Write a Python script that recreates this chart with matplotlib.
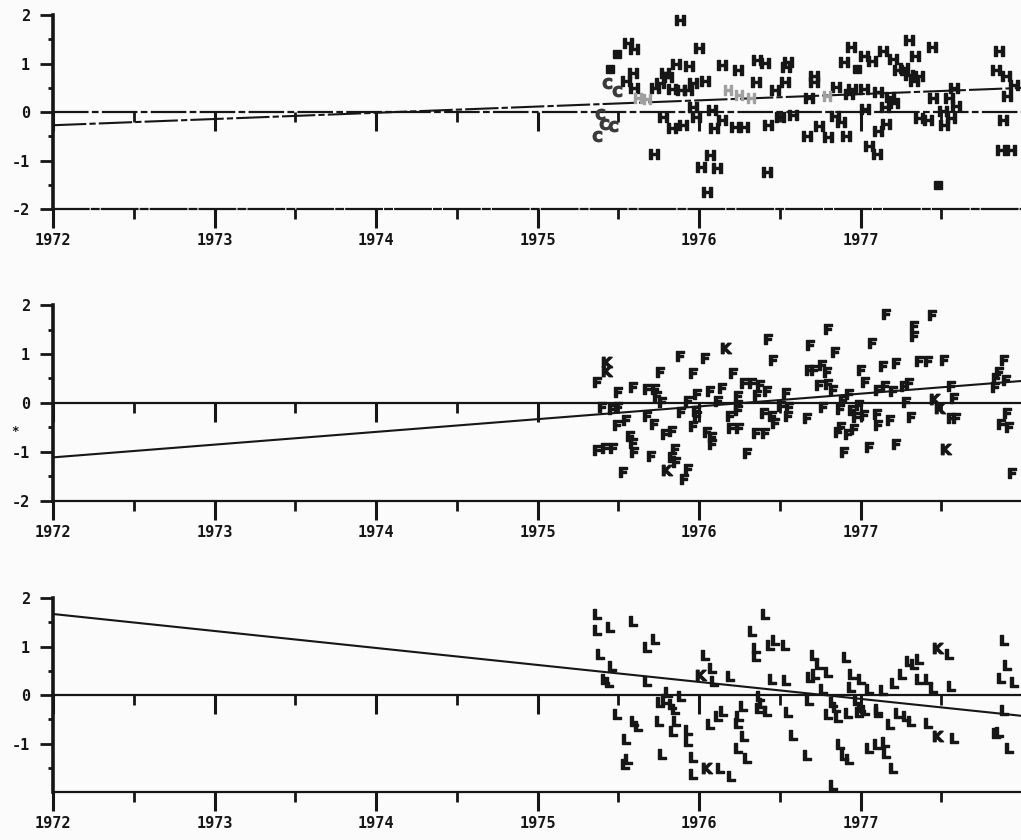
import matplotlib.pyplot as plt

# ------------------------------------------------------------------ #
# Values (decimal year, standardized value)
# ------------------------------------------------------------------ #
major_years = [1972, 1973, 1974, 1975, 1976, 1977]
minor_years = [1972.5, 1973.5, 1974.5, 1975.5, 1976.5, 1977.5]
year_labels = ['1972', '1973', '1974', '1975', '1976', '1977']

# fitted lines, value at 1972 and at 1978
fit_x = [1972, 1978]
fit_top = [-0.27, 0.50]
fit_mid = [-1.11, 0.45]
fit_bot = [1.67, -0.43]

# top panel, "H" points
h_year = [1975.88, 1975.56, 1975.60, 1976.00, 1975.86, 1975.94, 1976.14, 1976.24, 1976.36, 1976.41,
          1976.55, 1976.54, 1975.59, 1975.55, 1975.60, 1975.79, 1975.81, 1975.76, 1975.73, 1975.83,
          1975.89, 1975.96, 1976.04, 1975.93, 1976.35, 1976.53, 1976.47, 1975.78, 1975.83, 1975.90,
          1975.96, 1975.98, 1976.08, 1976.14, 1976.09, 1976.22, 1976.28, 1976.43, 1976.50, 1976.58,
          1975.72, 1976.07, 1976.01, 1976.11, 1976.05, 1976.42,
          1976.94, 1977.02, 1977.07, 1976.90, 1977.14, 1977.20, 1977.30, 1977.34, 1977.44, 1977.23,
          1977.27, 1977.30, 1977.33, 1977.36, 1976.71, 1976.71, 1976.68, 1976.85, 1976.93, 1976.95,
          1977.02, 1977.11, 1977.18, 1977.21, 1977.15, 1977.03, 1976.84, 1976.88, 1976.74, 1976.67,
          1976.80, 1976.91, 1977.11, 1977.16, 1977.05, 1977.10, 1977.36, 1977.42, 1977.45, 1977.55,
          1977.58, 1977.59, 1977.51, 1977.56, 1977.52, 1977.86, 1977.84, 1977.90, 1977.95, 1977.91,
          1977.88, 1977.87, 1977.93]
h_val = [1.89, 1.43, 1.30, 1.32, 1.00, 0.96, 0.97, 0.87, 1.08, 1.02,
         1.04, 0.94, 0.81, 0.64, 0.50, 0.81, 0.73, 0.61, 0.50, 0.47,
         0.46, 0.61, 0.64, 0.45, 0.62, 0.63, 0.46, -0.11, -0.32, -0.27,
         0.10, -0.11, 0.04, -0.16, -0.33, -0.30, -0.30, -0.26, -0.09, -0.05,
         -0.86, -0.89, -1.14, -1.15, -1.65, -1.23,
         1.34, 1.16, 1.06, 1.03, 1.27, 1.10, 1.48, 1.15, 1.34, 0.86,
         0.90, 0.76, 0.65, 0.74, 0.74, 0.63, 0.30, 0.52, 0.37, 0.48,
         0.48, 0.42, 0.32, 0.18, 0.11, 0.07, -0.08, -0.20, -0.29, -0.50,
         -0.52, -0.49, -0.38, -0.24, -0.69, -0.86, -0.13, -0.17, 0.29, 0.29,
         0.50, 0.12, 0.02, -0.12, -0.27, 1.27, 0.87, 0.75, 0.55, 0.34,
         -0.17, -0.79, -0.79]
# top panel, overstruck / faint prints
hc_year = [1975.43, 1975.49, 1975.39, 1975.41, 1975.47, 1975.37]
hc_val = [0.60, 0.44, -0.04, -0.25, -0.29, -0.50]
hblk_year = [1975.49, 1975.45, 1976.98, 1977.48]
hblk_val = [1.20, 0.89, 0.89, -1.51]
hfaint_year = [1975.68, 1975.62, 1976.18, 1976.25, 1976.32, 1976.79]
hfaint_val = [0.27, 0.30, 0.46, 0.36, 0.29, 0.33]

# middle panel, "F" points
f_year = [1975.37, 1975.50, 1975.59, 1975.68, 1975.73, 1975.74, 1975.77, 1975.40, 1975.46, 1975.50,
          1975.49, 1975.55, 1975.68, 1975.72, 1975.57, 1975.59, 1975.60, 1975.37, 1975.42, 1975.47,
          1975.70, 1975.53, 1975.79, 1975.83, 1975.85, 1975.83, 1975.86, 1975.93, 1975.91, 1975.88,
          1976.04, 1975.76, 1975.96, 1976.43, 1976.46, 1976.21, 1976.28, 1976.33, 1976.38, 1976.42,
          1976.36, 1976.54, 1976.24, 1976.24, 1975.99, 1976.07, 1976.14, 1976.12, 1975.93, 1975.98,
          1975.89, 1975.99, 1975.96, 1976.05, 1976.08, 1976.08, 1976.19, 1976.20, 1976.25, 1976.24,
          1976.35, 1976.41, 1976.30, 1976.40, 1976.45, 1976.47, 1976.51, 1976.56, 1976.55,
          1977.16, 1977.44, 1976.80, 1977.33, 1977.33, 1976.69, 1976.84, 1977.07, 1976.68, 1976.71,
          1976.76, 1976.79, 1977.00, 1977.14, 1977.22, 1977.36, 1977.42, 1977.52, 1977.89, 1977.86,
          1977.84, 1977.83, 1977.90, 1976.74, 1976.80, 1976.83, 1977.03, 1977.11, 1977.15, 1977.20,
          1977.27, 1977.30, 1977.56, 1976.89, 1976.93, 1976.77, 1976.87, 1977.28, 1977.58, 1976.95,
          1976.99, 1976.97, 1977.02, 1977.10, 1976.67, 1976.86, 1976.92, 1976.96, 1976.88, 1977.11,
          1977.18, 1977.31, 1977.56, 1977.59, 1977.91, 1977.87, 1977.92, 1976.90, 1977.05, 1977.22,
          1977.94]
f_val = [0.42, 0.22, 0.33, 0.29, 0.29, 0.14, 0.02, -0.09, -0.13, -0.09,
         -0.44, -0.34, -0.27, -0.43, -0.68, -0.81, -1.00, -0.96, -0.92, -0.92,
         -1.09, -1.41, -0.64, -0.57, -0.94, -1.11, -1.20, -1.35, -1.56, 0.95,
         0.92, 0.64, 0.61, 1.30, 0.87, 0.61, 0.41, 0.41, 0.37, 0.25,
         0.16, 0.21, 0.14, -0.04, 0.19, 0.24, 0.30, 0.05, 0.05, -0.16,
         -0.18, -0.26, -0.47, -0.59, -0.69, -0.84, -0.27, -0.52, -0.52, -0.15,
         -0.62, -0.62, -1.03, -0.20, -0.26, -0.41, -0.06, -0.09, -0.26,
         1.82, 1.79, 1.52, 1.58, 1.37, 1.19, 1.05, 1.22, 0.67, 0.67,
         0.78, 0.63, 0.68, 0.75, 0.81, 0.86, 0.86, 0.88, 0.88, 0.63,
         0.50, 0.32, 0.46, 0.36, 0.38, 0.26, 0.43, 0.27, 0.34, 0.24,
         0.34, 0.40, 0.35, 0.06, 0.18, -0.09, -0.13, 0.03, 0.10, -0.14,
         -0.04, -0.29, -0.24, -0.22, -0.30, -0.60, -0.64, -0.54, -0.50, -0.45,
         -0.34, -0.28, -0.31, -0.31, -0.20, -0.42, -0.50, -1.01, -0.90, -0.84,
         -1.43]
fk_year = [1975.43, 1975.43, 1976.17, 1975.80, 1977.46, 1977.49, 1977.53]
fk_val = [0.84, 0.65, 1.13, -1.36, 0.08, -0.11, -0.93]

# bottom panel, "L" points
l_year = [1975.37, 1975.37, 1975.45, 1975.59, 1975.68, 1975.73, 1975.39, 1975.46, 1975.42, 1975.44,
          1975.68, 1975.49, 1975.60, 1975.62, 1975.55, 1975.54, 1975.56, 1975.81, 1975.79, 1975.76,
          1975.83, 1975.85, 1975.89, 1975.75, 1975.86, 1975.84, 1975.93, 1975.93, 1975.77, 1975.96,
          1975.96, 1976.13, 1976.20, 1976.04, 1976.08, 1976.09, 1976.19, 1976.07, 1976.12, 1976.15,
          1976.24, 1976.25, 1976.27, 1976.28, 1976.24, 1976.30, 1976.41, 1976.33, 1976.35, 1976.35,
          1976.44, 1976.47, 1976.53, 1976.45, 1976.54, 1976.38, 1976.39, 1976.37, 1976.42, 1976.55,
          1976.58,
          1977.89, 1977.91, 1977.87, 1977.95, 1977.89, 1977.84, 1977.86, 1977.92, 1977.55, 1977.30,
          1977.33, 1977.36, 1977.26, 1977.36, 1977.42, 1977.21, 1977.45, 1977.56, 1976.91, 1976.71,
          1976.74, 1976.72, 1976.69, 1976.80, 1976.95, 1977.00, 1976.94, 1977.05, 1977.14, 1976.77,
          1976.68, 1976.83, 1976.85, 1976.80, 1976.86, 1976.92, 1976.98, 1977.00, 1976.99, 1977.03,
          1977.11, 1977.11, 1977.18, 1977.23, 1977.28, 1977.31, 1977.42, 1977.58, 1976.87, 1976.90,
          1976.93, 1977.05, 1977.10, 1977.15, 1977.16, 1977.20, 1976.67, 1976.83]
l_val = [1.66, 1.35, 1.40, 1.53, 0.99, 1.16, 0.84, 0.59, 0.32, 0.26,
         0.29, -0.40, -0.54, -0.64, -0.91, -1.42, -1.32, 0.07, -0.08, -0.14,
         -0.18, -0.28, -0.03, -0.53, -0.53, -0.75, -0.73, -0.94, -1.21, -1.27,
         -1.62, -1.51, -1.67, 0.82, 0.55, 0.28, 0.39, -0.59, -0.44, -0.33,
         -0.58, -0.43, -0.23, -0.84, -1.09, -1.29, 1.66, 1.32, 0.97, 0.81,
         1.04, 1.13, 1.04, 0.32, 0.30, -0.01, -0.16, -0.26, -0.32, -0.36,
         -0.83,
         1.13, 0.61, 0.36, 0.26, -0.31, -0.79, -0.77, -1.10, 0.85, 0.70,
         0.64, 0.74, 0.43, 0.32, 0.33, 0.24, 0.15, 0.19, 0.79, 0.82,
         0.64, 0.43, 0.37, 0.47, 0.44, 0.34, 0.17, 0.13, 0.11, 0.12,
         -0.11, -0.14, -0.25, -0.39, -0.45, -0.38, -0.10, -0.24, -0.35, -0.30,
         -0.28, -0.34, -0.59, -0.38, -0.44, -0.54, -0.58, -0.88, -1.01, -1.24,
         -1.31, -1.10, -1.02, -0.96, -1.20, -1.51, -1.24, -1.86]
lk_year = [1976.05, 1976.01, 1977.48, 1977.48]
lk_val = [-1.51, 0.41, 0.97, -0.84]

# ------------------------------------------------------------------ #
# Plot
# ------------------------------------------------------------------ #
plt.rcParams['font.family'] = 'DejaVu Sans Mono'
plt.rcParams['font.weight'] = 'bold'
plt.rcParams['mathtext.fontset'] = 'dejavusans'

ink = '#161616'
fig = plt.figure(figsize=(10.21, 8.4), dpi=100)
fig.patch.set_facecolor('#fbfbfb')

left, width = 53 / 1021, 969 / 1021
rects = [[left, 0.751, width, 0.231],
         [left, 0.4036, width, 0.2333],
         [left, 0.0571, width, 0.231]]


def setup(ax, ls, ylabels):
    ax.set_facecolor('none')
    ax.set_xlim(1972, 1978)
    ax.set_ylim(-2, 2)
    for s in ['top', 'right']:
        ax.spines[s].set_visible(False)
    ax.spines['left'].set_linewidth(2.6)
    ax.spines['left'].set_color(ink)
    ax.spines['bottom'].set_linewidth(1.6)
    ax.spines['bottom'].set_color(ink)
    ax.spines['bottom'].set_linestyle(ls)

    ax.set_xticks(major_years, year_labels)
    ax.set_xticks(minor_years, minor=True)
    ax.set_yticks([2, 1, 0, -1, -2][:len(ylabels)], ylabels)
    ax.set_yticks([1.5, 0.5, -0.5, -1.5], minor=True)
    ax.tick_params(axis='x', which='major', length=14, width=2.2, pad=3,
                   labelsize=11, color=ink, labelcolor=ink)
    ax.tick_params(axis='x', which='minor', length=7.5, width=2.0, color=ink)
    ax.tick_params(axis='y', which='major', length=9.5, width=2.0, pad=7,
                   labelsize=11, color=ink, labelcolor=ink)
    ax.tick_params(axis='y', which='minor', length=3.5, width=2.0, color=ink)

    # zero line carries the same year ticks, hanging down
    ax.axhline(0, color=ink, lw=1.6, ls=ls, zorder=1)
    sec = ax.secondary_xaxis(0.5)
    sec.set_alignment('bottom')
    sec.set_xticks(major_years, [])
    sec.set_xticks(minor_years, minor=True)
    sec.tick_params(axis='x', which='major', length=14, width=2.2, color=ink)
    sec.tick_params(axis='x', which='minor', length=7.5, width=2.0, color=ink)
    for s in sec.spines.values():
        s.set_visible(False)


def letters(ax, x, y, ch, color=ink, ms=7.5):
    ax.plot(x, y, ls='none', marker=r'$\mathbf{%s}$' % ch, ms=ms,
            color=color, clip_on=False, zorder=3)


dashdot = (0, (16, 1.5, 3, 1.5))
ax1 = fig.add_axes(rects[0])
setup(ax1, dashdot, ['2', '1', '0', '-1', '-2'])
ax1.plot(fit_x, fit_top, color=ink, lw=1.5, ls=dashdot, zorder=1)
letters(ax1, h_year, h_val, 'H')
letters(ax1, hc_year, hc_val, 'C', color='#3a3a3a', ms=7.5)
letters(ax1, hfaint_year, hfaint_val, 'H', color='#a0a0a0', ms=6.5)
ax1.plot(hblk_year, hblk_val, ls='none', marker='s', ms=6, color=ink, zorder=3)

ax2 = fig.add_axes(rects[1])
setup(ax2, '-', ['2', '1', '0', '-1', '-2'])
ax2.plot(fit_x, fit_mid, color=ink, lw=1.5, zorder=1)
letters(ax2, f_year, f_val, 'F')
letters(ax2, fk_year, fk_val, 'K')
fig.text(15 / 1021, 1 - 432 / 840, '*', fontsize=9, color=ink, ha='center', va='center')

ax3 = fig.add_axes(rects[2])
setup(ax3, '-', ['2', '1', '0', '-1'])
ax3.plot(fit_x, fit_bot, color=ink, lw=1.5, zorder=1)
letters(ax3, l_year, l_val, 'L')
letters(ax3, lk_year, lk_val, 'K')

plt.savefig('out.png', dpi=100, facecolor=fig.get_facecolor())
